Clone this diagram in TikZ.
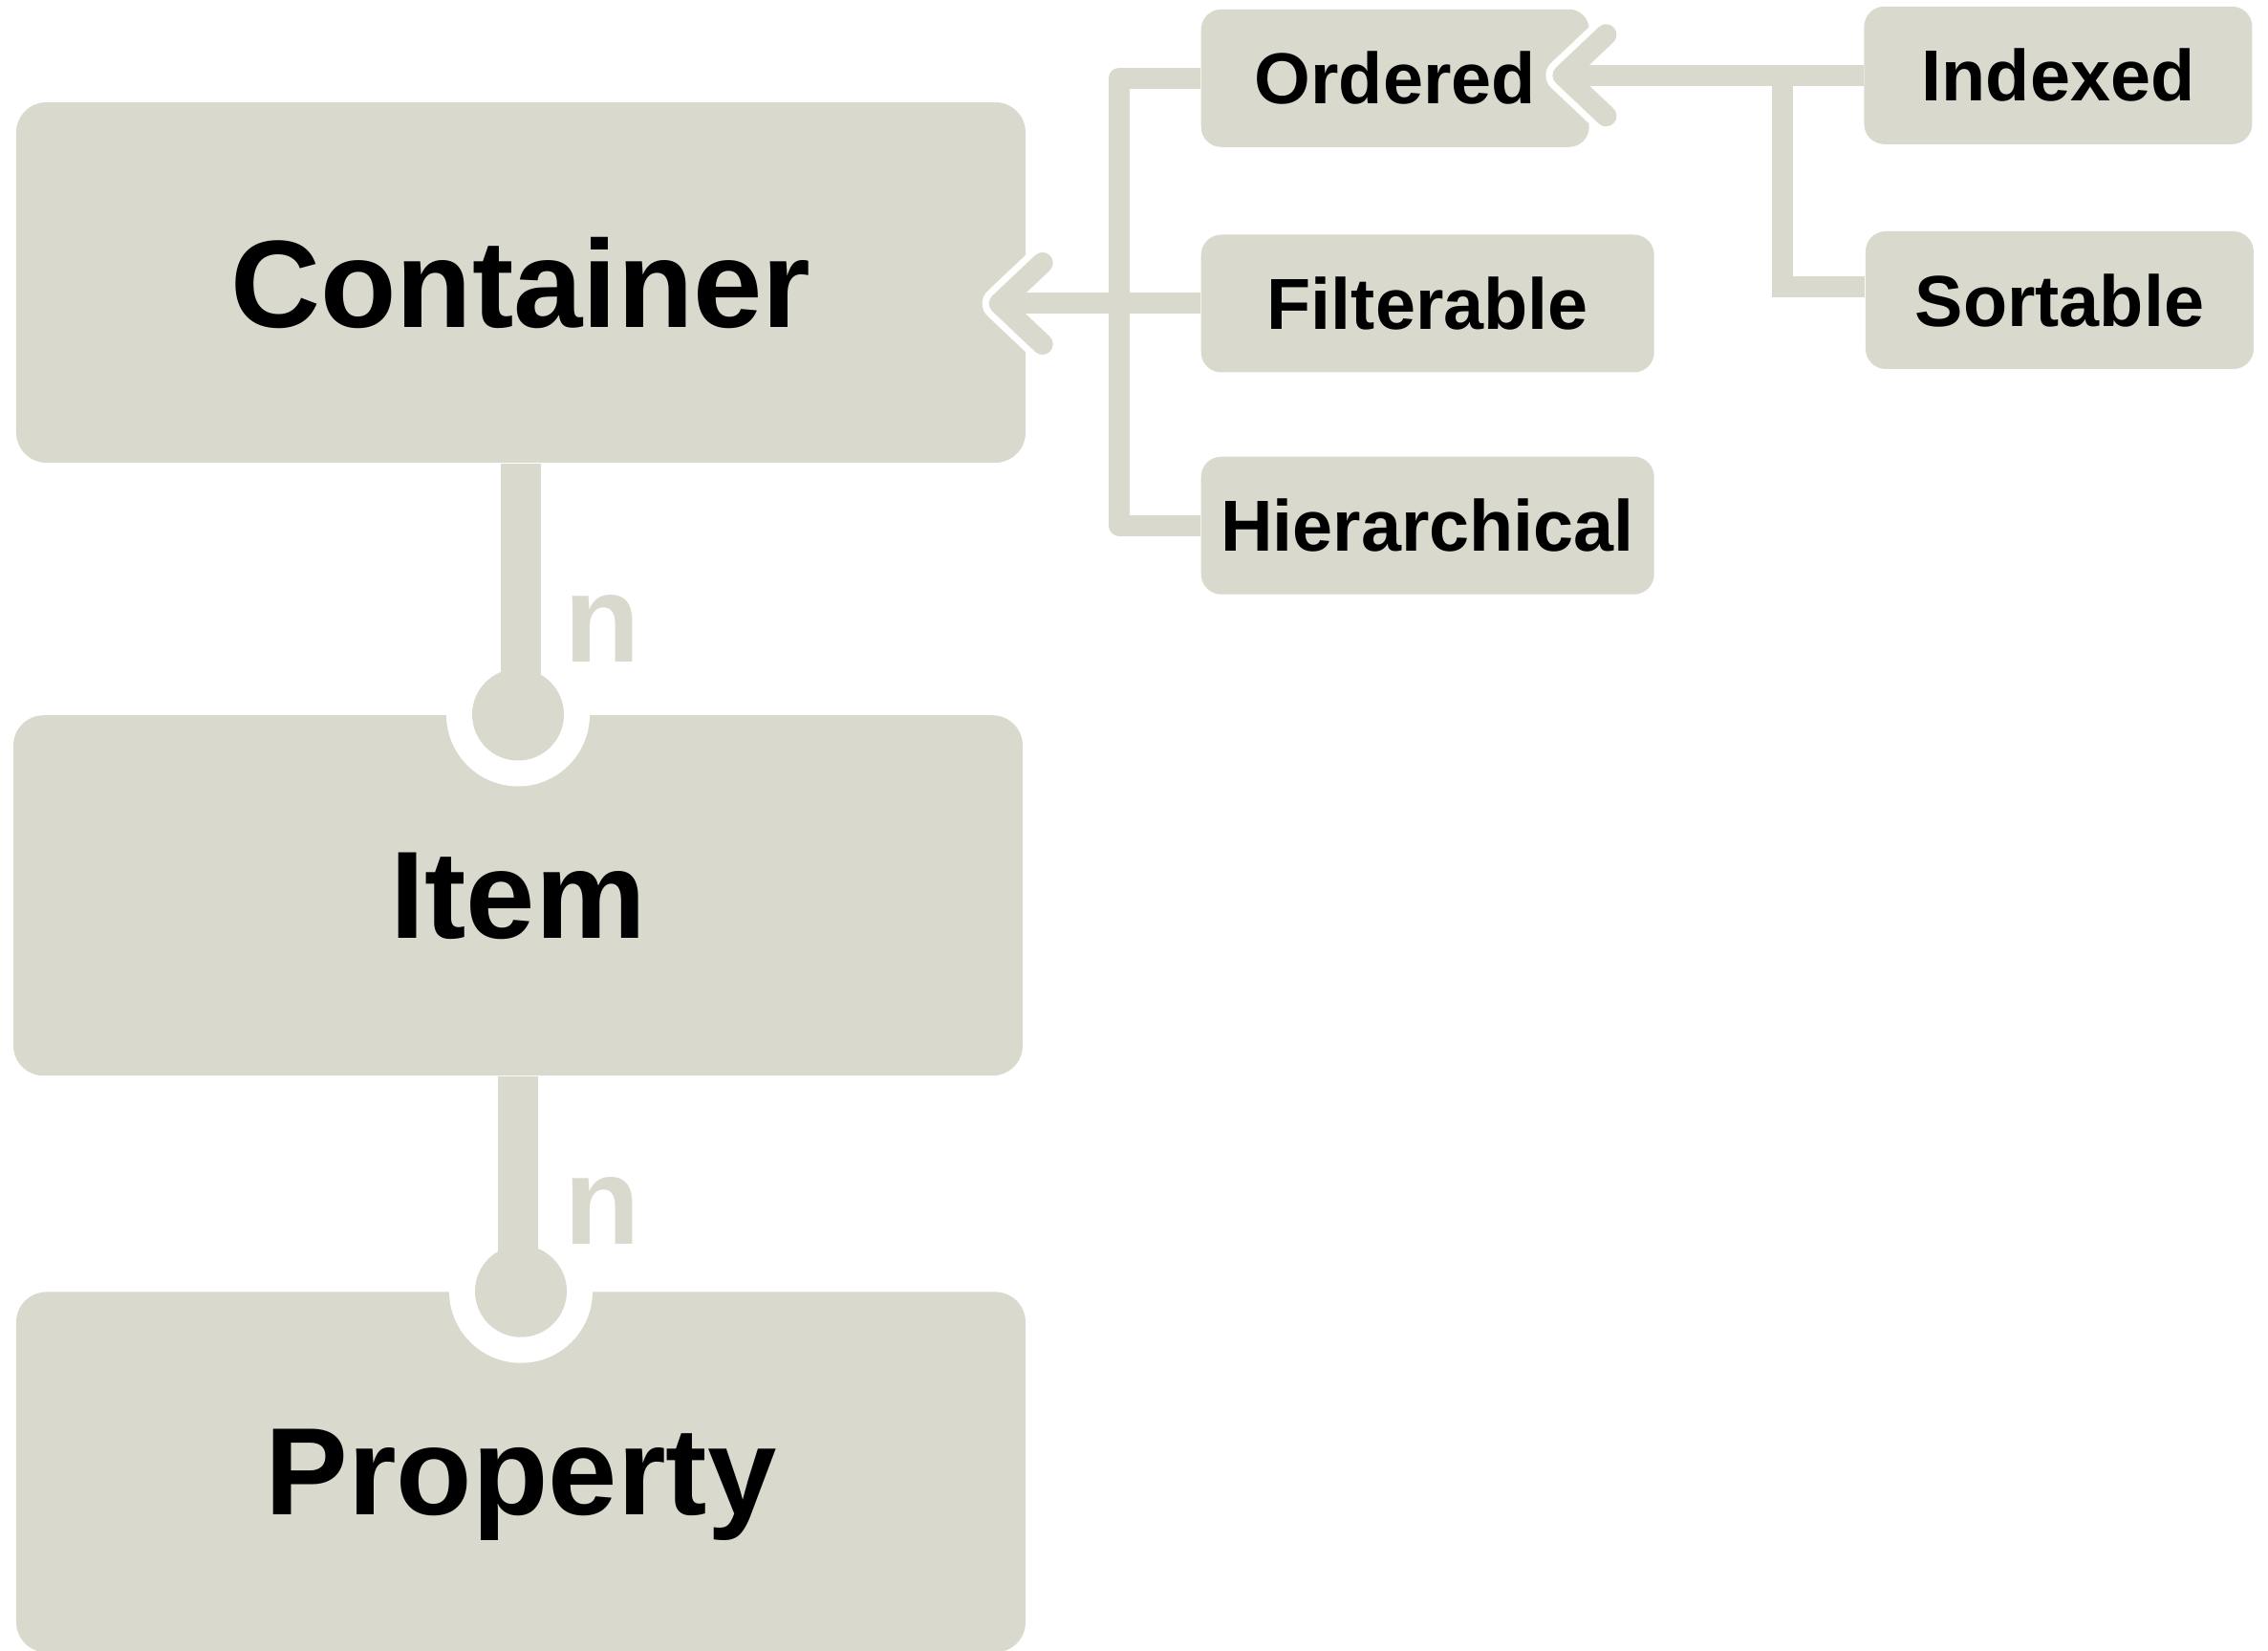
\documentclass[tikz,border=0pt]{standalone}
\usepackage{fontspec}
\setmainfont{Liberation Sans}
\usetikzlibrary{arrows.meta, positioning, calc}
\definecolor{boxgray}{RGB}{218,217,205}
\tikzset{
  entity/.style  = {rectangle, rounded corners=9pt, fill=boxgray,
                    minimum width=10.56cm, minimum height=3.77cm,
                    text depth=0pt,
                    align=center, font=\fontsize{37}{44}\selectfont\bfseries},
  trait/.style   = {rectangle, rounded corners=6pt, fill=boxgray,
                    minimum width=4.74cm, minimum height=1.44cm,
                    align=center, font=\fontsize{21.5}{26}\selectfont\bfseries},
  assoc/.style   = {draw=boxgray, line width=0.42cm},
  genline/.style = {draw=boxgray, line width=0.22cm, line join=round},
  inherit/.style = {draw=boxgray, line width=0.22cm,
                    -{Straight Barb[length=0.45cm, width=0.85cm, round]},
                    shorten >=-0.39cm,
                    preaction={draw=white, line width=0.36cm, shorten >=-0.46cm}}
}

\begin{document}
\begin{tikzpicture}[
    mult/.style = {text=boxgray, inner sep=0pt,
                   font=\fontsize{37}{44}\selectfont\bfseries}
]
\useasboundingbox (0,0) rectangle (23.73,-17.27);

% Main chain
\node[entity] at (5.45, -2.955) (container) {Container};

\node[entity
] at ($(container.south) + (-0.03cm, -4.52cm)$) (item) {Item};

\node[entity
] at ($(item.south) + (0.03cm, -4.14cm)$) (property) {Property};

% Traits
\node[trait, minimum width=4.06cm
] at ($(container.north east) + (3.86cm, 0.245cm)$) (ordered) {Ordered};

\node[trait
] at ($(ordered.south) + (0.34cm, -1.63cm)$) (filterable) {Filterable};

\node[trait
] at ($(filterable.south) + (0cm, -1.595cm)$) (hierarchical) {Hierarchical};

\node[trait, minimum width=4.06cm
] at ($(ordered.east) + (4.9cm, 0.03cm)$) (indexed) {Indexed};

\node[trait, minimum width=4.06cm
] at ($(indexed.south) + (0.015cm, -1.625cm)$) (sortable) {Sortable};

% Associations
\fill[white] (item.north) circle (0.75cm);
\fill[boxgray] (item.north) circle (0.48cm);
\draw[assoc] (container.south) -- (container.south |- item.north);
\node[mult] at ($(item.north) + (0.88cm, 0.9cm)$) (n1) {n};

\fill[white] (property.north) circle (0.75cm);
\fill[boxgray] (property.north) circle (0.48cm);
\draw[assoc] (item.south) -- (item.south |- property.north);
\node[mult] at ($(property.north) + (0.85cm, 0.84cm)$) (n2) {n};

% Generalisation
\draw[inherit] (filterable.west) -- (container.east |- filterable.west);
\draw[genline] (ordered.west) -| ($(filterable.west) + (-0.85cm, 0cm)$)
    |- (hierarchical.west);

\draw[inherit] (indexed.west) -- (ordered.east |- indexed.west);
\draw[genline, line join=miter] ([yshift=0.14cm]sortable.west)
    -| ($(indexed.west) + (-0.845cm, 0cm)$);

\end{tikzpicture}
\end{document}
